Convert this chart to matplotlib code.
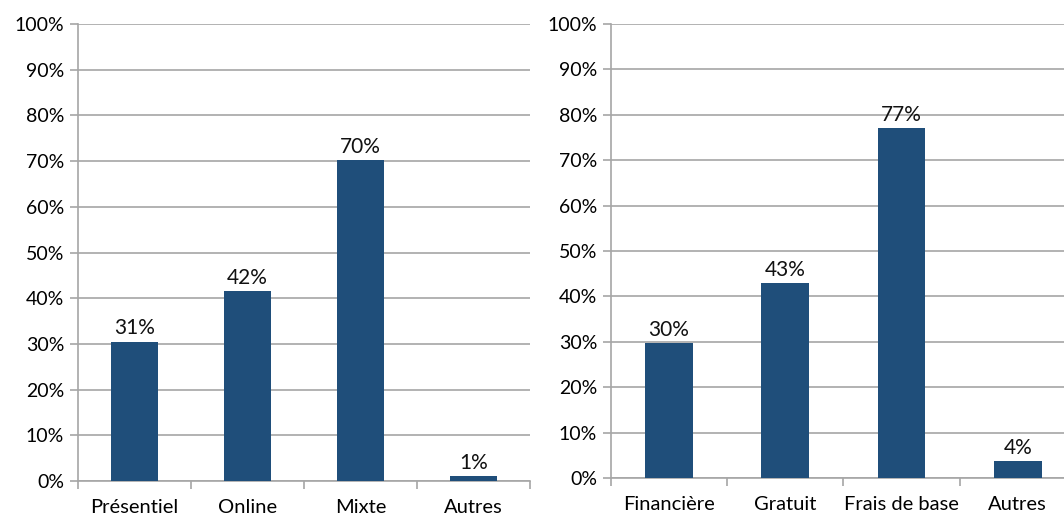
import matplotlib.pyplot as plt
from matplotlib.ticker import FixedLocator, PercentFormatter

# Left chart: format
format_labels = ["Présentiel", "Online", "Mixte", "Autres"]
format_values = [30.5, 41.6, 70.3, 1.1]
format_text = ["31%", "42%", "70%", "1%"]

# Right chart: financement
cost_labels = ["Financière", "Gratuit", "Frais de base", "Autres"]
cost_values = [29.8, 42.9, 77.1, 3.7]
cost_text = ["30%", "43%", "77%", "4%"]

BAR_COLOR = "#1F4E7A"
GRID_COLOR = "#A6A6A6"

plt.rcParams["font.family"] = ["Lato", "DejaVu Sans"]


def draw_bars(ax, labels, values, texts) -> None:
    x = range(len(labels))
    ax.bar(x, values, width=0.41, color=BAR_COLOR, zorder=3)
    for xi, v, t in zip(x, values, texts):
        ax.text(xi, v + 0.7, t, ha="center", va="bottom", fontsize=15, color="#111111", zorder=4)

    ax.set_xlim(-0.5, len(labels) - 0.5)
    ax.set_ylim(0, 100)
    ax.set_yticks(range(0, 101, 10))
    ax.yaxis.set_major_formatter(PercentFormatter(decimals=0))
    ax.grid(axis="y", color=GRID_COLOR, linewidth=1.2, zorder=0)

    # Category labels under the bars, tick marks between categories
    ax.set_xticks(list(x))
    ax.set_xticklabels(labels)
    ax.xaxis.set_minor_locator(FixedLocator([i - 0.5 for i in range(len(labels) + 1)]))
    ax.tick_params(axis="x", which="major", length=0, labelsize=14.5, pad=13)
    ax.tick_params(axis="x", which="minor", length=6, color=GRID_COLOR, width=1.2)
    ax.tick_params(axis="y", length=6, color=GRID_COLOR, width=1.2, labelsize=14, pad=4)

    for side in ["top", "right"]:
        ax.spines[side].set_visible(False)
    for side in ["left", "bottom"]:
        ax.spines[side].set_color(GRID_COLOR)
        ax.spines[side].set_linewidth(1.2)


fig = plt.figure(figsize=(10.64, 5.16), dpi=100)
ax1 = fig.add_axes([0.0733, 0.0678, 0.4248, 0.8857])
ax2 = fig.add_axes([0.5742, 0.0736, 0.437, 0.8798])

draw_bars(ax1, format_labels, format_values, format_text)
draw_bars(ax2, cost_labels, cost_values, cost_text)

fig.savefig("out.png", dpi=100)
